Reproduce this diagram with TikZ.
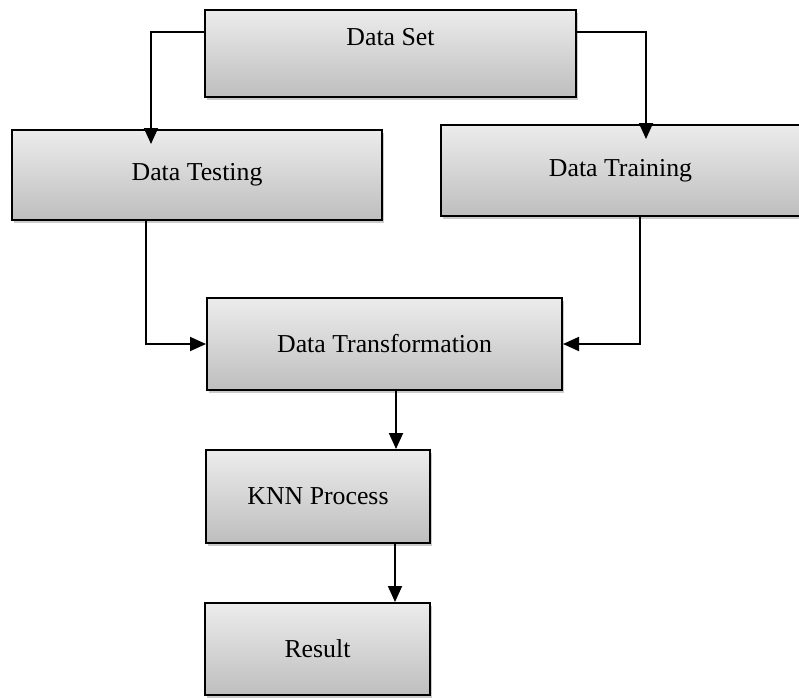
\documentclass[tikz,border=0pt]{standalone}
\usepackage{fontspec}
\setmainfont{Liberation Serif}
\usetikzlibrary{arrows.meta,shadows}
\definecolor{boxtop}{RGB}{236,236,236}
\definecolor{boxbot}{RGB}{190,190,190}
\begin{document}
\begin{tikzpicture}[x=1pt,y=-1pt,
  box/.style={rectangle,draw=black,line width=2pt,top color=boxtop,bottom color=boxbot,
    drop shadow={shadow xshift=2pt,shadow yshift=-2.5pt,opacity=0.35,fill=black!60},
    inner sep=0pt,font=\fontsize{25.8}{30}\selectfont},
  lbl/.style={inner sep=0pt,font=\fontsize{25.8}{30}\selectfont},
  arr/.style={line width=1.8pt,-{Triangle[length=16pt,width=14pt]}}]
\useasboundingbox (0,0) rectangle (799,697);
\node[box,minimum width=371pt,minimum height=87pt] (ds) at (390.5,53.5) {};
\node[lbl] (dsl) at (390.5,37) {Data Set};
\node[box,minimum width=370pt,minimum height=90pt] (dt) at (197,175) {Data Testing};
\node[box,minimum width=359pt,minimum height=91pt] (dr) at (620.5,170.5) {Data Training};
\node[box,minimum width=355pt,minimum height=92pt] (tf) at (384.5,344) {Data Transformation};
\node[box,minimum width=224pt,minimum height=93pt] (knn) at (318,496.5) {KNN Process};
\node[box,minimum width=225pt,minimum height=92pt] (res) at (317.5,649) {Result};
\draw[arr,shorten >=-15pt] ([yshift=-23pt]ds.north west) -| ([xshift=140pt]dt.north west);
\draw[arr,shorten >=-15pt] ([yshift=-23pt]ds.north east) -| ([xshift=206pt]dr.north west);
\draw[arr] ([xshift=135pt]dt.south west) |- (tf.west);
\draw[arr] ([xshift=200pt]dr.south west) |- (tf.east);
\draw[arr] ([xshift=190pt]tf.south west) -- ([xshift=191pt]knn.north west);
\draw[arr] ([xshift=190pt]knn.south west) -- ([xshift=191pt]res.north west);
\end{tikzpicture}
\end{document}
